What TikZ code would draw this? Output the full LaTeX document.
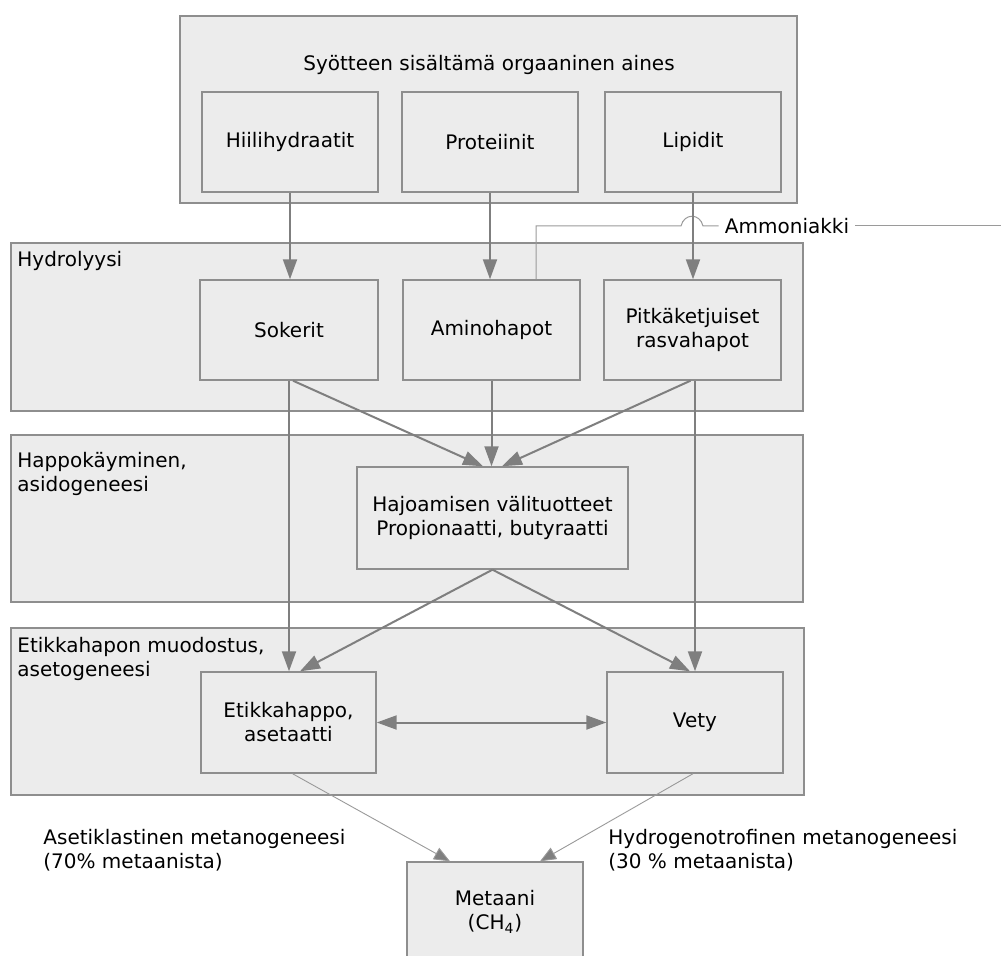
\documentclass[tikz,border=0pt]{standalone}
\usepackage{fontspec}
\setmainfont{DejaVu Sans}
\usetikzlibrary{arrows.meta}
\definecolor{boxfill}{HTML}{ECECEC}
\definecolor{boxline}{HTML}{8E8E8E}
\definecolor{arrowgray}{HTML}{7F7F7F}
\definecolor{thingray}{HTML}{9A9A9A}
\begin{document}
\begin{tikzpicture}[x=0.5pt,y=-0.5pt,
  font=\fontsize{10}{12}\selectfont,
  region/.style={draw=boxline, fill=boxfill, line width=0.7pt, inner sep=0pt},
  stagebox/.style={draw=boxline, fill=boxfill, line width=0.7pt, align=center, inner sep=0pt},
  lbl/.style={align=left, inner sep=0pt, anchor=west},
  flow/.style={draw=arrowgray, line width=1pt, -{Triangle[length=10pt,width=7pt]}},
  thinflow/.style={draw=thingray, line width=0.45pt, -{Triangle[length=8pt,width=6.5pt,fill=arrowgray]}},
  both/.style={draw=arrowgray, line width=1pt, {Triangle[length=10pt,width=7pt]}-{Triangle[length=10pt,width=7pt]}},
  amline/.style={draw=thingray, line width=0.5pt}
]
\useasboundingbox (0,0) rectangle (1001,956);
\fill[white] (0,0) rectangle (1001,956);

% containers
\node[region, minimum width=308.5pt, minimum height=93.5pt] (top) at (488.5,109.5) {};
\node[region, minimum width=396pt, minimum height=84pt] (hydro) at (407,327) {};
\node[region, minimum width=396pt, minimum height=83.5pt] (happo) at (407,518.5) {};
\node[region, minimum width=396.5pt, minimum height=83.5pt] (etikreg) at (407.5,711.5) {};

% container labels
\node (title) at (489,65) {Syötteen sisältämä orgaaninen aines};
\node[lbl] (hydrolbl) at (17,261) {Hydrolyysi};
\node[lbl] (happolbl) at (17,473.5) {Happokäyminen,\\asidogeneesi};
\node[lbl] (etiklbl) at (17,658.5) {Etikkahapon muodostus,\\asetogeneesi};

% boxes
\node[stagebox, minimum width=88pt, minimum height=50pt] (hiili) at (290,142) {Hiilihydraatit};
\node[stagebox, minimum width=88pt, minimum height=50pt] (prot) at (490,142) {Proteiinit};
\node[stagebox, minimum width=88pt, minimum height=50pt] (lip) at (693,142) {Lipidit};

\node[stagebox, minimum width=89pt, minimum height=50pt] (sok) at (289,330) {Sokerit};
\node[stagebox, minimum width=88.5pt, minimum height=50pt] (amino) at (491.5,330) {Aminohapot};
\node[stagebox, minimum width=88.5pt, minimum height=50pt] (pitka) at (692.5,330) {Pitkäketjuiset\\rasvahapot};

\node[stagebox, minimum width=135.5pt, minimum height=51pt] (haj) at (492.5,518) {Hajoamisen välituotteet\\Propionaatti, butyraatti};

\node[stagebox, minimum width=87.5pt, minimum height=50.5pt] (etik) at (288.5,722.5) {Etikkahappo,\\asetaatti};
\node[stagebox, minimum width=88pt, minimum height=50.5pt] (vety) at (695,722.5) {Vety};

\node[stagebox, minimum width=88pt, minimum height=50pt] (met) at (495,912) {Metaani\\(CH\textsubscript{4})};

% bottom labels
\node[lbl] (aset) at (43,850.5) {Asetiklastinen metanogeneesi\\(70\% metaanista)};
\node[lbl] (hydrog) at (608,850.5) {Hydrogenotrofinen metanogeneesi\\(30 \% metaanista)};

% ammonia line
\node[inner sep=3pt] (ammlbl) at (787,226) {Ammoniakki};
\coordinate (ammend) at (1001,226);
\draw[amline] ([xshift=22.25pt]amino.north) |- (681,226)
  .. controls (684,213) and (700,213) .. (703,226) -- (ammlbl.west);
\draw[amline] (ammlbl.east) -- (ammend);

% arrows top -> hydrolysis
\draw[flow] (hiili.south) -- (hiili.south |- sok.north);
\draw[flow] (prot.south) -- (prot.south |- amino.north);
\draw[flow] (lip.south) -- (lip.south |- pitka.north);

% hydrolysis -> acidogenesis
\draw[flow] ([xshift=2pt]sok.south) -- ([xshift=-4.75pt]haj.north);
\draw[flow] (amino.south) -- (amino.south |- haj.north);
\draw[flow] ([xshift=-1pt]pitka.south) -- ([xshift=4.75pt]haj.north);

% long verticals
\draw[flow] (sok.south) -- (sok.south |- etik.north);
\draw[flow] ([xshift=1.25pt]pitka.south) -- ([xshift=1.25pt]pitka.south |- vety.north);

% acidogenesis -> acetogenesis
\draw[flow] (haj.south) -- ([xshift=5.75pt]etik.north);
\draw[flow] (haj.south) -- ([xshift=-2.5pt]vety.north);

% double arrow
\draw[both] (etik.east) -- (vety.west);

% to methane
\draw[thinflow] ([xshift=2pt]etik.south) -- ([xshift=-22.5pt]met.north);
\draw[thinflow] ([xshift=-1pt]vety.south) -- ([xshift=22.5pt]met.north);
\end{tikzpicture}
\end{document}
